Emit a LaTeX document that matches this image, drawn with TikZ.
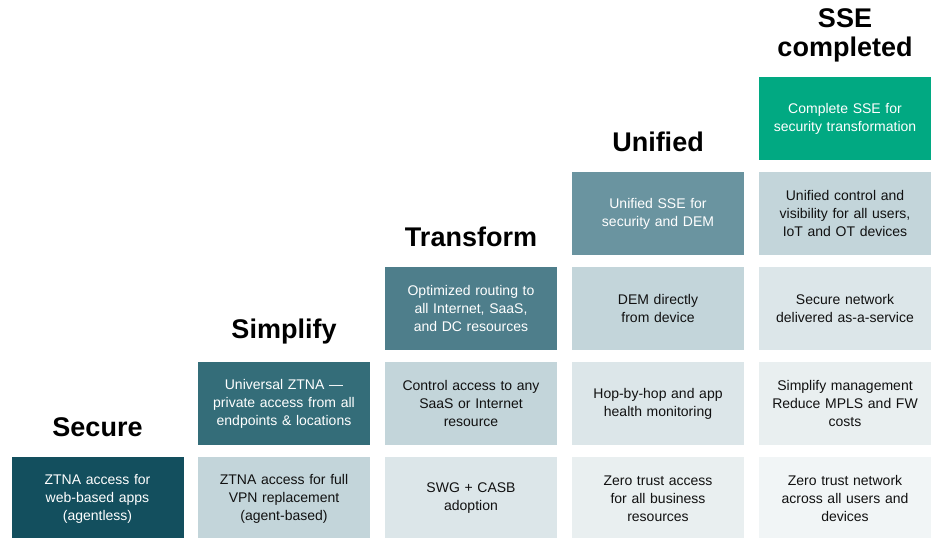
\documentclass[tikz,border=0pt]{standalone}
\usepackage{fontspec}
\setmainfont{Liberation Sans}
\usepackage{xcolor}
\usepackage{tikz}
\usetikzlibrary{positioning}
\definecolor{lvlone}{HTML}{134F5E}
\definecolor{lvltwo}{HTML}{346D79}
\definecolor{lvlthree}{HTML}{4E7E8B}
\definecolor{lvlfour}{HTML}{6A94A0}
\definecolor{lvlfive}{HTML}{01A982}
\definecolor{shadeA}{HTML}{C3D5DA}
\definecolor{shadeB}{HTML}{DCE6E9}
\definecolor{shadeC}{HTML}{E9EFF0}
\definecolor{shadeD}{HTML}{F1F5F6}
\definecolor{inktext}{HTML}{111111}

\begin{document}
\begin{tikzpicture}[x=1pt,y=-1pt,
	tile/.style={minimum width=172pt,minimum height=83pt,inner sep=0pt,text width=166pt,align=center,font=\fontsize{14}{18}\selectfont},
	dark/.style={tile,fill=#1,text=white},
	light/.style={tile,fill=#1,text=inktext},
	stage/.style={font=\fontsize{27}{29}\selectfont\bfseries,align=center,text=black}]
	\useasboundingbox (0,0) rectangle (937,538);
	% stage titles
	\node[stage] (secure) at (97.5,427) {Secure};
	\node[stage] (simplify) at (284,332) {Simplify};
	\node[stage] (transform) at (471,237) {Transform};
	\node[stage] (unified) at (658,142) {Unified};
	\node[stage] (complete) at (845,35) {SSE\\completed};
	% column 1
	\node[dark=lvlone] (sec1) at (97.5,498.5) {ZTNA access for\\web-based apps\\(agentless)};
	% column 2
	\node[dark=lvltwo] (sim2) at (284,403.5) {Universal ZTNA —\\private access from all\\endpoints \& locations};
	\node[light=shadeA] (sim1) at (284,498.5) {ZTNA access for full\\VPN replacement\\(agent-based)};
	% column 3
	\node[dark=lvlthree] (tra3) at (471,308.5) {Optimized routing to\\all Internet, SaaS,\\and DC resources};
	\node[light=shadeA] (tra2) at (471,403.5) {Control access to any\\SaaS or Internet\\resource};
	\node[light=shadeB] (tra1) at (471,498.5) {SWG + CASB\\adoption};
	% column 4
	\node[dark=lvlfour] (uni4) at (658,213.5) {Unified SSE for\\security and DEM};
	\node[light=shadeA] (uni3) at (658,308.5) {DEM directly\\from device};
	\node[light=shadeB] (uni2) at (658,403.5) {Hop-by-hop and app\\health monitoring};
	\node[light=shadeC] (uni1) at (658,498.5) {Zero trust access\\for all business\\resources};
	% column 5
	\node[dark=lvlfive] (sse5) at (845,118.5) {Complete SSE for\\security transformation};
	\node[light=shadeA] (sse4) at (845,213.5) {Unified control and\\visibility for all users,\\IoT and OT devices};
	\node[light=shadeB] (sse3) at (845,308.5) {Secure network\\delivered as-a-service};
	\node[light=shadeC] (sse2) at (845,403.5) {Simplify management\\Reduce MPLS and FW\\costs};
	\node[light=shadeD] (sse1) at (845,498.5) {Zero trust network\\across all users and\\devices};
\end{tikzpicture}
\end{document}
